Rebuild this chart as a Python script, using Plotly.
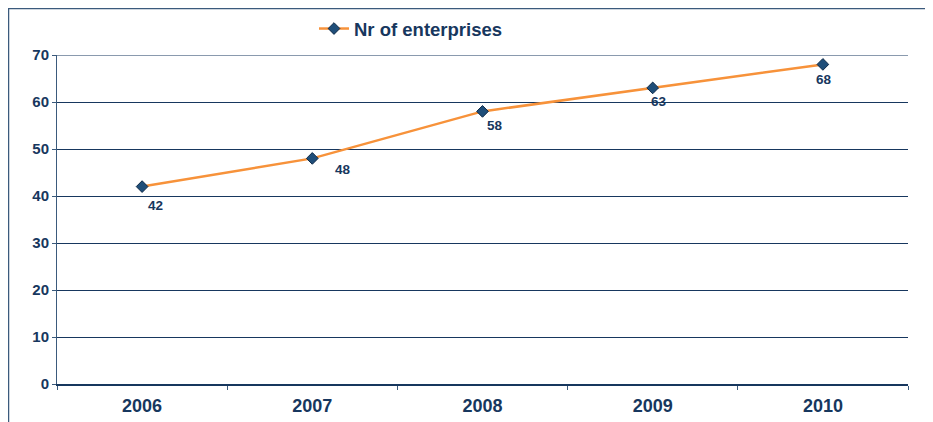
import plotly.graph_objects as go

years = ["2006", "2007", "2008", "2009", "2010"]
enterprises = [42, 48, 58, 63, 68]
series_name = "Nr of enterprises"
y_ticks = [0, 10, 20, 30, 40, 50, 60, 70]

# label offsets (pixels) for data labels
label_dx = [13, 31, 12, 6, 1]
label_dy = [-19, -11, -14, -14, -15]

NAVY = "#17375E"
ORANGE = "#F7923A"
FONT = "Liberation Sans, Arial, sans-serif"

# page has an 8px body margin; figure is sized to fill the rest
W, H = 925, 414
ML, MR, MT, MB = 49, 25, 47, 38
PW, PH = W - ML - MR, H - MT - MB

xs = list(range(len(years)))

fig = go.Figure()
fig.add_trace(go.Scatter(
    x=xs, y=enterprises, name=f"<b>{series_name}</b>", mode="lines+markers",
    line=dict(color=ORANGE, width=2.5),
    marker=dict(symbol="diamond", size=9, color="#1F4E79", line=dict(color="#0F2A48", width=1)),
    showlegend=True,
))

for i, v in enumerate(enterprises):
    fig.add_annotation(x=xs[i], y=v, text=f"<b>{v}</b>", showarrow=False,
                       xshift=label_dx[i], yshift=label_dy[i],
                       font=dict(family=FONT, size=13.5, color=NAVY))

# gridline at top of range
fig.add_shape(type="line", xref="paper", yref="y", x0=0, x1=1, y0=70, y1=70,
              line=dict(color=NAVY, width=1), layer="below")

# outer frame
fig.add_shape(type="rect", xref="paper", yref="paper",
              x0=(0.5 - ML) / PW, x1=1.2, y0=-0.3, y1=(PH + MT - 0.5) / PH,
              line=dict(color="#3B5A7C", width=1.5), layer="below")

fig.update_layout(
    width=W, height=H,
    margin=dict(l=ML, r=MR, t=MT, b=MB, autoexpand=False),
    plot_bgcolor="white", paper_bgcolor="white",
    font=dict(family=FONT, color=NAVY),
    legend=dict(orientation="h", x=0.302, y=(PH + MT - 21) / PH, xanchor="left", yanchor="middle",
                font=dict(family=FONT, size=18.5, color=NAVY),
                bgcolor="rgba(0,0,0,0)"),
    xaxis=dict(range=[-0.5, 4.5], tickmode="array", tickvals=xs,
               ticktext=[f"<b>{y}</b>" for y in years],
               tickfont=dict(family=FONT, size=18, color=NAVY),
               showgrid=False, zeroline=False, showline=False, ticks="",
               ticklabelstandoff=9),
    yaxis=dict(range=[0, 70], tickmode="array", tickvals=y_ticks,
               ticktext=[f"<b>{t}</b>" for t in y_ticks],
               tickfont=dict(family=FONT, size=15, color=NAVY),
               showgrid=True, gridcolor=NAVY, gridwidth=1,
               zeroline=False, showline=True, linecolor="#3B5A7C", linewidth=1,
               ticks="outside", ticklen=4, tickcolor="#3B5A7C"),
)

# x axis baseline and boundary ticks via overlay axis
fig.update_layout(xaxis2=dict(overlaying="x", range=[-0.5, 4.5], tickmode="array",
                              tickvals=[-0.5, 0.5, 1.5, 2.5, 3.5, 4.5], showticklabels=False,
                              ticks="outside", ticklen=4, tickcolor="#3B5A7C",
                              showline=True, linecolor=NAVY, linewidth=1.5,
                              showgrid=False, zeroline=False, side="bottom", anchor="y"))
fig.add_trace(go.Scatter(x=[None], y=[None], xaxis="x2", showlegend=False, hoverinfo="skip"))

fig.write_html("out.html")
